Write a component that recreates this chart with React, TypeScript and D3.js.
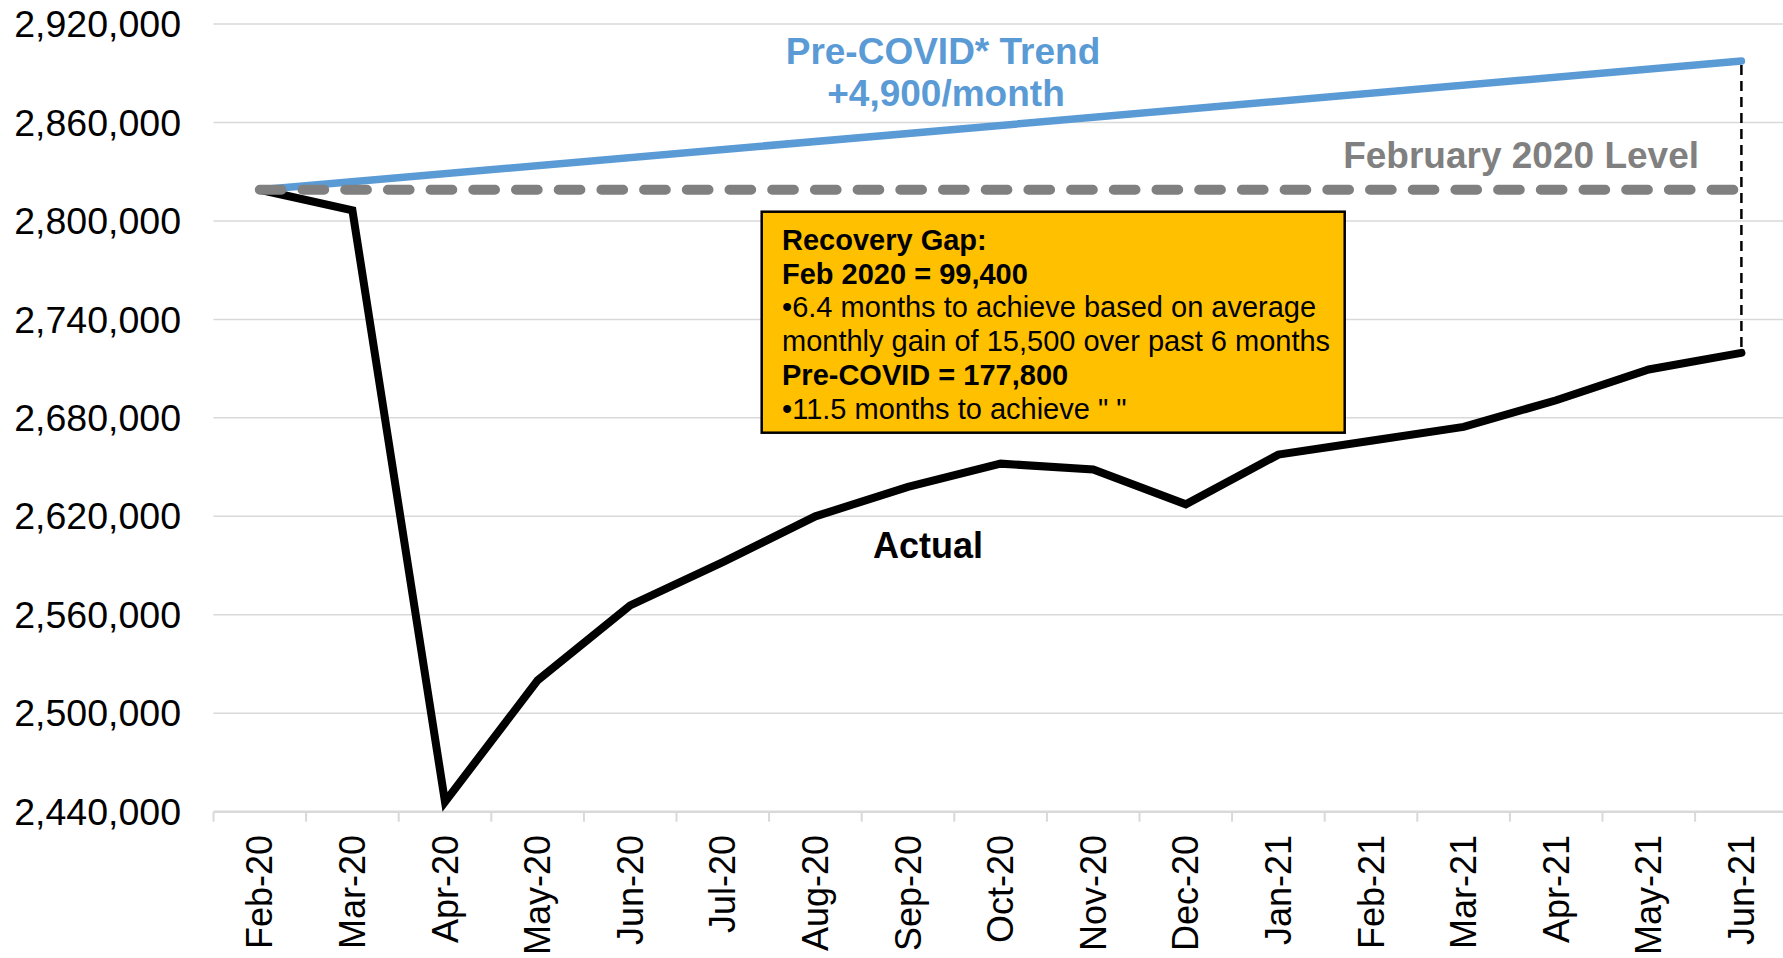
import React from "react";
import * as d3 from "d3";

// monthly employment
const months = [
  "Feb-20", "Mar-20", "Apr-20", "May-20", "Jun-20", "Jul-20", "Aug-20", "Sep-20",
  "Oct-20", "Nov-20", "Dec-20", "Jan-21", "Feb-21", "Mar-21", "Apr-21", "May-21", "Jun-21",
];
const actual = [
  2819000, 2806500, 2446000, 2520000, 2565700, 2592100, 2620000, 2637900,
  2652100, 2648500, 2627300, 2657600, 2666000, 2674500, 2690700, 2709500, 2719600,
];
const trendMonths = ["Feb-20", "Jun-21"];
const trendValues = [2819000, 2897400];
const febLevel = 2819000;
const yTicks = [2440000, 2500000, 2560000, 2620000, 2680000, 2740000, 2800000, 2860000, 2920000];

const boxLines = [
  { text: "Recovery Gap:", bold: true },
  { text: "Feb 2020 = 99,400", bold: true },
  { text: "\u20226.4 months to achieve based on average", bold: false },
  { text: "monthly gain of 15,500 over past 6 months", bold: false },
  { text: "Pre-COVID = 177,800", bold: true },
  { text: "\u202211.5 months to achieve \" \"", bold: false },
];

const W = 1783;
const H = 958;
const font = "'Liberation Sans', Arial, sans-serif";

export default function App() {
  const x = d3.scaleBand().domain(months).range([213.5, 1787.7]);
  const cx = (m: string) => (x(m) as number) + x.bandwidth() / 2;
  const y = d3.scaleLinear().domain([2440000, 2920000]).range([811.7, 24]);

  const line = d3
    .line<number>()
    .x((d, i) => cx(months[i]))
    .y((d) => y(d));

  const trendLine = d3
    .line<number>()
    .x((d, i) => cx(trendMonths[i]))
    .y((d) => y(d));

  const first = cx(months[0]);
  const last = cx(months[months.length - 1]);
  const x0 = 213.5;
  const x1 = 1787.7;

  return (
    <svg
      width={W}
      height={H}
      style={{ position: "absolute", left: 0, top: 0, background: "#fff" }}
      fontFamily={font}
    >
      {/* grid lines */}
      {yTicks.slice(1).map((t) => (
        <line key={t} x1={x0} x2={x1} y1={y(t)} y2={y(t)} stroke="#d9d9d9" strokeWidth={1.5} />
      ))}
      {/* x axis */}
      <line x1={x0} x2={x1} y1={y(2440000)} y2={y(2440000)} stroke="#d9d9d9" strokeWidth={2.5} />
      {months.map((m) => (
        <line
          key={"t" + m}
          x1={x(m)}
          x2={x(m)}
          y1={y(2440000)}
          y2={y(2440000) + 10}
          stroke="#d9d9d9"
          strokeWidth={2}
        />
      ))}
      {months.map((m) => (
        <text
          key={"l" + m}
          transform={`translate(${cx(m)},835) rotate(-90)`}
          textAnchor="end"
          dy="0.35em"
          fontSize={36}
          fill="#000"
        >
          {m}
        </text>
      ))}
      {/* y labels */}
      {yTicks.map((t) => (
        <text key={"y" + t} x={181} y={y(t)} dy="0.35em" textAnchor="end" fontSize={37.5} fill="#000">
          {d3.format(",")(t)}
        </text>
      ))}

      {/* pre-covid trend */}
      <path d={trendLine(trendValues) || ""} fill="none" stroke="#5b9bd5" strokeWidth={7.5} strokeLinecap="round" />
      {/* actual */}
      <path d={line(actual) || ""} fill="none" stroke="#000" strokeWidth={8} strokeLinecap="round" />
      {/* feb 2020 level */}
      <line
        x1={first}
        x2={last - 6}
        y1={y(febLevel)}
        y2={y(febLevel)}
        stroke="#808080"
        strokeWidth={10}
        strokeLinecap="round"
        strokeDasharray="21.7 21"
      />
      {/* gap marker */}
      <line
        x1={last}
        x2={last}
        y1={y(trendValues[1]) + 4}
        y2={y(actual[actual.length - 1]) - 4}
        stroke="#000"
        strokeWidth={2.5}
        strokeDasharray="10 6"
      />

      <text x={943} y={64} textAnchor="middle" fontSize={37} fontWeight="bold" fill="#5b9bd5">
        Pre-COVID* Trend
      </text>
      <text x={946} y={106} textAnchor="middle" fontSize={37} fontWeight="bold" fill="#5b9bd5">
        +4,900/month
      </text>
      <text x={1699} y={168} textAnchor="end" fontSize={37} fontWeight="bold" fill="#808080">
        February 2020 Level
      </text>
      <text x={928} y={558} textAnchor="middle" fontSize={36} fontWeight="bold" fill="#000">
        Actual
      </text>

      {/* recovery gap box */}
      <rect x={761.7} y={211.7} width={583} height={221} fill="#ffc000" stroke="#000" strokeWidth={2.5} />
      {boxLines.map((l, i) => (
        <text
          key={"b" + i}
          x={782}
          y={250 + i * 33.7}
          fontSize={29}
          fontWeight={l.bold ? "bold" : "normal"}
          fill="#000"
        >
          {l.text}
        </text>
      ))}
    </svg>
  );
}
